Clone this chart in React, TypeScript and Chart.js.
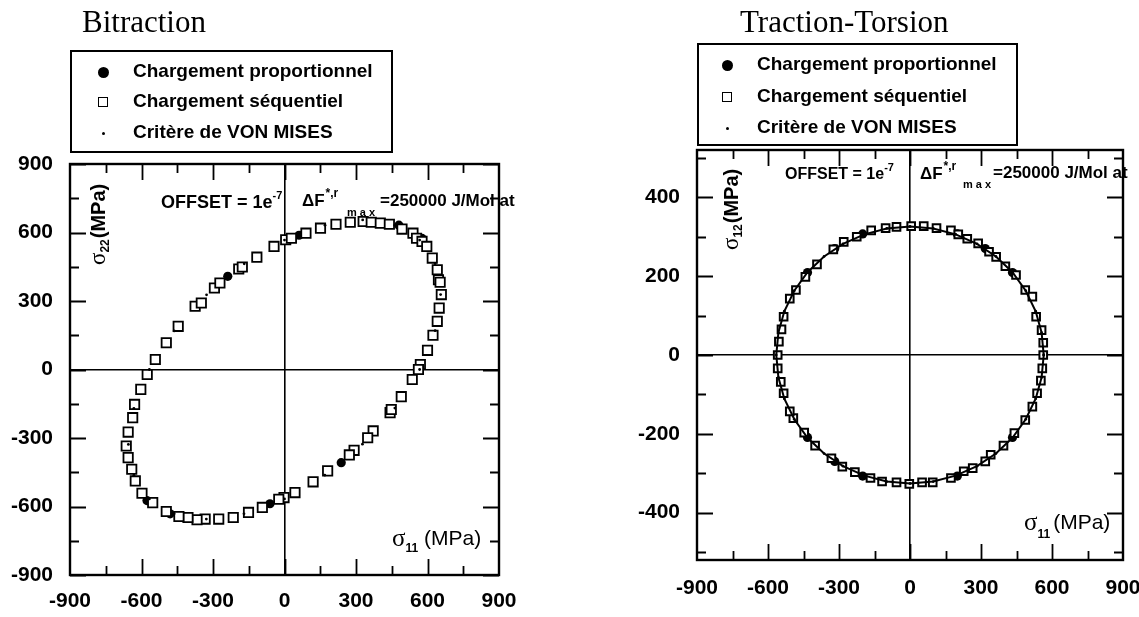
import React, { useEffect, useRef } from "react";
import { Chart, registerables } from "chart.js";

Chart.register(...registerables);

// ---------- Tick values ----------
const stressTicks = [-900, -750, -600, -450, -300, -150, 0, 150, 300, 450, 600, 750, 900];
const stressLabels = [-900, -600, -300, 0, 300, 600, 900];
const shearTicks = [-500, -400, -300, -200, -100, 0, 100, 200, 300, 400, 500];
const shearLabels = [-400, -200, 0, 200, 400];

// ---------- Bitraction data ----------
const biSeqX = [5, -44, 29, 90, 151, 216, 276, 330, 364, 402, 440, 493, 539, 554, 577, 597, 620, 641, 646, 653, 658, 649, 641, 623, 600, 570, 562, 536, 490, 443, 448, 372, 349, 292, 272, 181, 120, 44, -2, -24, -93, -151, -215, -276, -333, -367, -405, -443, -496, -553, -598, -626, -641, -656, -664, -656, -637, -629, -603, -576, -542, -496, -446, -375, -349, -294, -271, -192, -177, -116];
const biSeqY = [568, 539, 575, 597, 619, 636, 645, 648, 645, 641, 636, 615, 597, 575, 561, 539, 488, 437, 393, 382, 328, 269, 211, 150, 84, 22, 0, -44, -119, -189, -175, -269, -299, -354, -374, -444, -492, -539, -561, -568, -604, -626, -648, -655, -655, -658, -648, -644, -622, -583, -542, -488, -437, -386, -335, -274, -211, -153, -87, -22, 44, 117, 189, 277, 291, 357, 379, 440, 449, 492];
const biPropX = [-238, 61, 480, 577, 238, -61, -480, -577];
const biPropY = [408, 588, 632, 574, -408, -588, -632, -574];
const biMisesX = [567, 632, 655, 632, 567, 463, 327, 169, 0, -170, -328, -463, -567, -632, -655, -632, -567, -463, -327, -169, 0, 170, 328, 463];
const biMisesY = [567, 463, 328, 170, 0, -169, -327, -463, -567, -632, -655, -632, -567, -463, -328, -170, 0, 169, 327, 463, 567, 632, 655, 632];

// ---------- Traction-Torsion data ----------
const ttSeqX = [5, 58, 112, 173, 204, 242, 288, 334, 364, 403, 448, 487, 517, 533, 556, 563, 563, 559, 553, 537, 517, 487, 441, 395, 341, 318, 265, 227, 173, 96, 51, -3, -57, -118, -167, -233, -286, -332, -401, -447, -493, -508, -534, -546, -559, -559, -554, -543, -534, -508, -482, -442, -393, -324, -280, -225, -164, -103, -57];
const ttSeqY = [327, 327, 322, 316, 306, 295, 283, 262, 249, 225, 203, 165, 148, 97, 63, 31, 0, -34, -65, -97, -131, -165, -198, -230, -253, -270, -287, -295, -312, -323, -323, -327, -323, -321, -312, -297, -283, -262, -230, -197, -160, -143, -97, -68, -34, 0, 34, 65, 97, 143, 165, 198, 230, 268, 287, 300, 316, 322, 325];
const ttPropX = [433, 318, 200, -200, -318, -433, -433, -318, -200, 200, 318, 433];
const ttPropY = [209, 270, 307, 307, 270, 209, -209, -270, -307, -307, -270, -209];
const ttMisesX = [565, 556, 531, 489, 433, 363, 283, 193, 98, 0, -98, -193, -283, -363, -433, -489, -531, -556, -565, -556, -531, -489, -433, -363, -283, -193, -98, 0, 98, 193, 283, 363, 433, 489, 531, 556, 565];
const ttMisesY = [0, 57, 111, 163, 210, 250, 282, 306, 321, 326, 321, 306, 282, 250, 210, 163, 111, 57, 0, -57, -111, -163, -210, -250, -282, -306, -321, -326, -321, -306, -282, -250, -210, -163, -111, -57, 0];

// ---------- Text ----------
const legendLabels = ["Chargement proportionnel", "Chargement séquentiel", "Critère de VON MISES"];
const legendKinds = ["circle", "square", "dot"];

const SANS = "'Liberation Sans', Arial, sans-serif";
const SERIF = "'Liberation Serif', 'Times New Roman', serif";

type Part = { t: string; f: string; dy?: number; dx?: number };

function drawRich(ctx: CanvasRenderingContext2D, x: number, y: number, parts: Part[]) {
  ctx.textBaseline = "middle";
  ctx.textAlign = "left";
  let cx = x;
  for (const p of parts) {
    ctx.font = p.f;
    cx += p.dx || 0;
    ctx.fillText(p.t, cx, y + (p.dy || 0));
    cx += ctx.measureText(p.t).width;
  }
}

function pts(xs: number[], ys: number[]) {
  return xs.map((x, i) => ({ x, y: ys[i] }));
}

type Cfg = {
  padTop: number;
  padRight: number;
  yAxisW: number;
  xAxisH: number;
  xPad: number;
  yPad: number;
  yMin: number;
  yMax: number;
  yTicks: number[];
  yLabels: number[];
  annot: (ctx: CanvasRenderingContext2D, L: number, T: number, R: number, B: number) => void;
};

function frameAndTicks(xTicks: number[], xLabels: number[], yTicks: number[], yLabels: number[]) {
  return {
    id: "frameTicks",
    afterDraw(chart: any) {
      const { ctx, chartArea } = chart;
      const { left, top, right, bottom } = chartArea;
      const xs = chart.scales.x;
      const ys = chart.scales.y;
      ctx.save();
      ctx.strokeStyle = "#000";
      ctx.lineWidth = 1.8;
      ctx.beginPath();
      for (const v of xTicks) {
        if (v === xTicks[0] || v === xTicks[xTicks.length - 1]) continue;
        const px = Math.round(xs.getPixelForValue(v)) + 0.5;
        const len = xLabels.includes(v) ? 16 : 9;
        ctx.moveTo(px, bottom);
        ctx.lineTo(px, bottom - len);
        ctx.moveTo(px, top);
        ctx.lineTo(px, top + len);
      }
      for (const v of yTicks) {
        const py = Math.round(ys.getPixelForValue(v)) + 0.5;
        const len = yLabels.includes(v) ? 16 : 9;
        ctx.moveTo(left, py);
        ctx.lineTo(left + len, py);
        ctx.moveTo(right, py);
        ctx.lineTo(right - len, py);
      }
      ctx.stroke();
      ctx.lineWidth = 2.4;
      ctx.strokeRect(left, top, right - left, bottom - top);
      ctx.restore();
    },
  };
}

function annotPlugin(cfg: Cfg) {
  return {
    id: "annot",
    afterDraw(chart: any) {
      const { ctx, chartArea } = chart;
      ctx.save();
      ctx.fillStyle = "#000";
      cfg.annot(ctx, chartArea.left, chartArea.top, chartArea.right, chartArea.bottom);
      ctx.restore();
    },
  };
}

function buildChart(
  canvas: HTMLCanvasElement,
  cfg: Cfg,
  seqX: number[],
  seqY: number[],
  propX: number[],
  propY: number[],
  misX: number[],
  misY: number[],
  misesLine: boolean,
  sqR: number,
  sqBW: number
) {
  const tickFont = { family: SANS, size: 21, weight: "bold" as const };
  const zeroGrid = {
    drawTicks: false,
    lineWidth: 1.6,
    color: (c: any) => (c.tick && c.tick.value === 0 ? "#000" : "rgba(0,0,0,0)"),
  };
  return new Chart(canvas, {
    type: "scatter",
    data: {
      datasets: [
        {
          label: legendLabels[2],
          data: pts(misX, misY),
          showLine: misesLine,
          borderColor: "#000",
          borderWidth: 2,
          backgroundColor: "#000",
          pointRadius: 1.4,
          pointBorderWidth: 0,
          pointStyle: "circle",
        },
        {
          label: legendLabels[1],
          data: pts(seqX, seqY),
          pointStyle: "rect",
          pointRadius: sqR,
          backgroundColor: "#fff",
          borderColor: "#000",
          pointBorderWidth: sqBW,
        },
        {
          label: legendLabels[0],
          data: pts(propX, propY),
          pointStyle: "circle",
          pointRadius: 4.6,
          backgroundColor: "#000",
          borderColor: "#000",
          pointBorderWidth: 0,
        },
      ],
    },
    options: {
      responsive: false,
      animation: false,
      events: [],
      layout: { padding: { top: cfg.padTop, right: cfg.padRight, left: 0, bottom: 0 } },
      plugins: { legend: { display: false }, tooltip: { enabled: false }, title: { display: false } },
      scales: {
        x: {
          type: "linear",
          min: -900,
          max: 900,
          afterBuildTicks: (s: any) => {
            s.ticks = stressTicks.map((v) => ({ value: v }));
          },
          afterFit: (s: any) => {
            s.height = cfg.xAxisH;
            s.paddingLeft = 0;
            s.paddingRight = 0;
          },
          grid: zeroGrid,
          border: { display: false },
          ticks: {
            autoSkip: false,
            maxRotation: 0,
            padding: cfg.xPad,
            color: "#000",
            font: tickFont,
            callback: (v: any) => (stressLabels.includes(Number(v)) ? String(v) : ""),
          },
        },
        y: {
          type: "linear",
          min: cfg.yMin,
          max: cfg.yMax,
          afterBuildTicks: (s: any) => {
            s.ticks = cfg.yTicks.map((v) => ({ value: v }));
          },
          afterFit: (s: any) => {
            s.width = cfg.yAxisW;
            s.paddingTop = 0;
            s.paddingBottom = 0;
          },
          grid: zeroGrid,
          border: { display: false },
          ticks: {
            autoSkip: false,
            padding: cfg.yPad,
            color: "#000",
            font: tickFont,
            callback: (v: any) => (cfg.yLabels.includes(Number(v)) ? String(v) : ""),
          },
        },
      },
    } as any,
    plugins: [frameAndTicks(stressTicks, stressLabels, cfg.yTicks, cfg.yLabels), annotPlugin(cfg)] as any,
  });
}

const B = (s: number) => `bold ${s}px ${SANS}`;
const N = (s: number) => `${s}px ${SANS}`;
const SG = (s: number) => `${s}px ${SERIF}`;

function drawRotLabel(ctx: CanvasRenderingContext2D, x: number, y: number, sub: string) {
  ctx.save();
  ctx.translate(x, y);
  ctx.rotate(-Math.PI / 2);
  drawRich(ctx, 0, 0, [
    { t: "σ", f: SG(23) },
    { t: sub, f: B(12), dy: 7 },
    { t: "(MPa)", f: B(20), dx: 1 },
  ]);
  ctx.restore();
}

const leftCfg: Cfg = {
  padTop: 164,
  padRight: 71,
  yAxisW: 70,
  xAxisH: 42,
  xPad: 14,
  yPad: 17,
  yMin: -900,
  yMax: 900,
  yTicks: stressTicks,
  yLabels: stressLabels,
  annot: (ctx, L, T, R, Bt) => {
    drawRich(ctx, L + 91, T + 39, [
      { t: "OFFSET = 1e", f: B(18) },
      { t: "-7", f: B(11), dy: -7 },
    ]);
    drawRich(ctx, L + 232, T + 37, [
      { t: "ΔF", f: B(17) },
      { t: "*,r", f: B(12), dy: -7, dx: 1 },
    ]);
    drawRich(ctx, L + 277, T + 49, [{ t: "m a x", f: B(11) }]);
    drawRich(ctx, L + 310, T + 37, [{ t: "=250000 J/Mol at", f: B(17) }]);
    drawRotLabel(ctx, L + 29, T + 101, "22");
    drawRich(ctx, L + 322, Bt - 36, [
      { t: "σ", f: SG(25) },
      { t: "11", f: B(12), dy: 10 },
      { t: " (MPa)", f: N(21) },
    ]);
  },
};

const rightCfg: Cfg = {
  padTop: 150,
  padRight: 16,
  yAxisW: 127,
  xAxisH: 57,
  xPad: 16,
  yPad: 17,
  yMin: -520,
  yMax: 520,
  yTicks: shearTicks,
  yLabels: shearLabels,
  annot: (ctx, L, T, R, Bt) => {
    drawRich(ctx, L + 88, T + 25, [
      { t: "OFFSET = 1e", f: B(16) },
      { t: "-7", f: B(11), dy: -7 },
    ]);
    drawRich(ctx, L + 223, T + 24, [
      { t: "ΔF", f: B(17) },
      { t: "*,r", f: B(12), dy: -7, dx: 1 },
    ]);
    drawRich(ctx, L + 266, T + 35, [{ t: "m a x", f: B(11) }]);
    drawRich(ctx, L + 296, T + 23, [{ t: "=250000 J/Mol at", f: B(17) }]);
    drawRotLabel(ctx, L + 35, T + 100, "12");
    drawRich(ctx, L + 327, Bt - 37, [
      { t: "σ", f: SG(25) },
      { t: "11", f: B(12), dy: 12 },
      { t: "(MPa)", f: N(21), dx: 3 },
    ]);
  },
};

function Legend(props: { left: number; top: number; width: number; height: number; rows: number[]; markerX: number; textX: number }) {
  const { left, top, width, height, rows, markerX, textX } = props;
  return (
    <div
      style={{
        position: "absolute",
        left,
        top,
        width,
        height,
        border: "2px solid #000",
        boxSizing: "border-box",
      }}
    >
      {legendLabels.map((lab, i) => {
        const kind = legendKinds[i];
        const size = kind === "circle" ? 11 : kind === "square" ? 10 : 3;
        return (
          <React.Fragment key={lab}>
            <div
              style={{
                position: "absolute",
                left: markerX - size / 2 - 2,
                top: rows[i] - size / 2 - 2,
                width: size,
                height: size,
                boxSizing: "border-box",
                borderRadius: kind === "square" ? 0 : "50%",
                background: kind === "square" ? "#fff" : "#000",
                border: kind === "square" ? "1.8px solid #000" : "none",
              }}
            />
            <div
              style={{
                position: "absolute",
                left: textX - 2,
                top: rows[i] - 12 - 2,
                height: 24,
                lineHeight: "24px",
                font: `bold 19px ${SANS}`,
                whiteSpace: "nowrap",
                color: "#000",
              }}
            >
              {lab}
            </div>
          </React.Fragment>
        );
      })}
    </div>
  );
}

export default function App() {
  const leftRef = useRef<HTMLCanvasElement>(null);
  const rightRef = useRef<HTMLCanvasElement>(null);

  useEffect(() => {
    const c1 = buildChart(leftRef.current!, leftCfg, biSeqX, biSeqY, biPropX, biPropY, biMisesX, biMisesY, false, 6.6, 1.8);
    const c2 = buildChart(rightRef.current!, rightCfg, ttSeqX, ttSeqY, ttPropX, ttPropY, ttMisesX, ttMisesY, true, 5.4, 2);
    return () => {
      c1.destroy();
      c2.destroy();
    };
  }, []);

  const titleStyle: React.CSSProperties = {
    position: "absolute",
    top: 6,
    font: `31px ${SERIF}`,
    lineHeight: "31px",
    whiteSpace: "nowrap",
    color: "#000",
  };

  return (
    <div style={{ position: "absolute", left: 0, top: 0, width: 1139, height: 617, background: "#fff", overflow: "hidden" }}>
      <canvas ref={leftRef} width={570} height={617} style={{ position: "absolute", left: 0, top: 0 }} />
      <canvas ref={rightRef} width={569} height={617} style={{ position: "absolute", left: 570, top: 0 }} />
      <div style={{ ...titleStyle, left: 82 }}>Bitraction</div>
      <div style={{ ...titleStyle, left: 740 }}>Traction-Torsion</div>
      <Legend left={70} top={50} width={323} height={103} rows={[22, 52, 83]} markerX={33} textX={63} />
      <Legend left={697} top={43} width={321} height={103} rows={[22, 54, 85]} markerX={30} textX={60} />
    </div>
  );
}
